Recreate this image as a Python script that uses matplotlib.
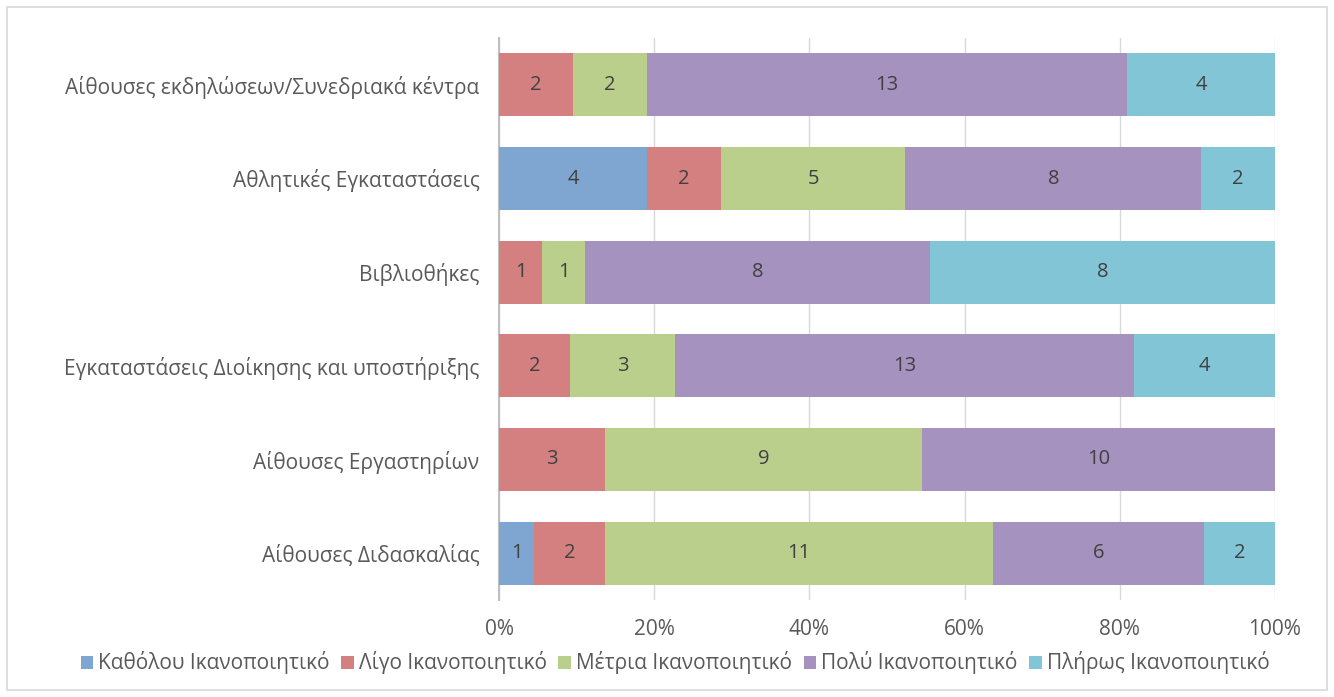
import numpy as np
import matplotlib.pyplot as plt
from matplotlib.patches import Rectangle

categories = ['Αίθουσες εκδηλώσεων/Συνεδριακά κέντρα',
              'Αθλητικές Εγκαταστάσεις',
              'Βιβλιοθήκες',
              'Εγκαταστάσεις Διοίκησης και υποστήριξης',
              'Αίθουσες Εργαστηρίων',
              'Αίθουσες Διδασκαλίας']
series_names = ['Καθόλου Ικανοποιητικό', 'Λίγο Ικανοποιητικό', 'Μέτρια Ικανοποιητικό',
                'Πολύ Ικανοποιητικό', 'Πλήρως Ικανοποιητικό']
katholou = [0, 4, 0, 0, 0, 1]
ligo = [2, 2, 1, 2, 3, 2]
metria = [2, 5, 1, 3, 9, 11]
poly = [13, 8, 8, 13, 10, 6]
pliros = [4, 2, 8, 4, 0, 2]
colors = ['#7FA6D0', '#D48080', '#BBCF8D', '#A692BF', '#82C5D6']

plt.rcParams['font.family'] = ['Open Sans', 'DejaVu Sans']

counts = np.array([katholou, ligo, metria, poly, pliros], dtype=float)
totals = counts.sum(axis=0)
pct = counts / totals

fig = plt.figure(figsize=(13.34, 6.97), dpi=100)
ax = fig.add_axes([499/1334, 1-600/697, (1275-499)/1334, (600-38)/697])

y = np.arange(len(categories))[::-1]
left = np.zeros(len(categories))
for i, name in enumerate(series_names):
    ax.barh(y, pct[i], left=left, height=0.67, color=colors[i], label=name, zorder=3)
    for j in range(len(categories)):
        if counts[i, j] > 0:
            ax.text(left[j] + pct[i, j]/2, y[j], '%d' % counts[i, j], ha='center', va='center',
                    fontsize=14.5, color='#404040', zorder=4)
    left += pct[i]

ax.set_xlim(0, 1)
ax.set_ylim(-0.5, 5.5)
ax.set_xticks(np.arange(0, 1.01, 0.2))
ax.set_xticklabels(['%d%%' % v for v in range(0, 101, 20)])
ax.set_yticks(y)
ax.set_yticklabels(categories)
ax.tick_params(axis='both', length=0, labelsize=15, colors='#595959')
ax.tick_params(axis='y', pad=14)
ax.tick_params(axis='x', pad=14)
ax.grid(axis='x', color='#D9D9D9', linewidth=1, zorder=0)
for s in ['top', 'right', 'bottom']:
    ax.spines[s].set_visible(False)
ax.spines['left'].set_color('#BFBFBF')
ax.spines['left'].set_linewidth(1.5)

fig.legend(loc='center', bbox_to_anchor=(675/1334, 1-663/697), ncol=5, frameon=False,
           fontsize=15, handlelength=0.6, handleheight=0.6, handletextpad=0.25,
           columnspacing=0.55, labelcolor='#595959')

fig.patches.append(Rectangle((7/1334, 7/697), 1320/1334, 683/697, transform=fig.transFigure,
                             fill=False, edgecolor='#D9D9D9', linewidth=1.2))

fig.savefig('out.png', dpi=100)
